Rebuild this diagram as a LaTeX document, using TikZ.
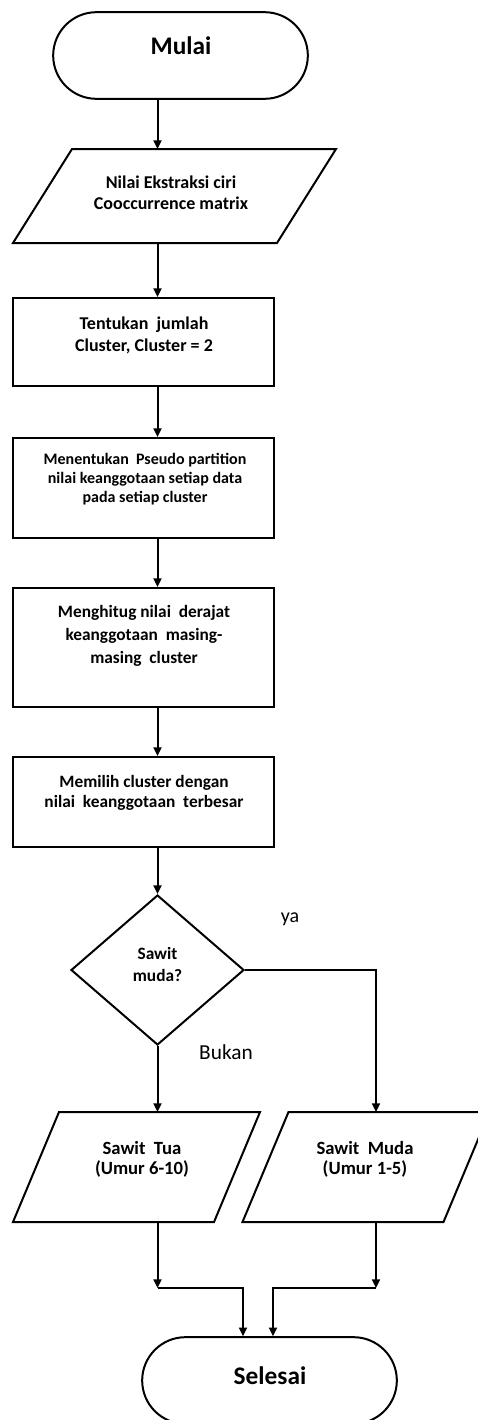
\documentclass[tikz,border=0pt]{standalone}
\usepackage{fontspec}
\setmainfont{Carlito}
\usetikzlibrary{arrows.meta,positioning,shapes.geometric,shapes.misc}

\begin{document}
\begin{tikzpicture}[x=0.75pt,y=-0.75pt,line width=1.5pt,
  term/.style={draw,rounded rectangle,minimum width=191pt,minimum height=65pt,inner sep=0pt},
  proc/.style={draw,rectangle,minimum width=195.75pt,inner sep=0pt},
  io/.style={rectangle,inner sep=0pt},
  cond/.style={draw,diamond,minimum width=129.75pt,minimum height=112.5pt,inner sep=0pt},
  txt/.style={align=center,font=\bfseries\fontsize{13.5}{16.5}\selectfont},
  arr/.style={-{Triangle[length=6.5pt,width=6pt]}}]
  \useasboundingbox (0,0) rectangle (478,1420);
  % Guide lines for the connectors
  \coordinate (spine) at (157.5,0);
  \coordinate (rspine) at (376,0);
  \coordinate (el) at (243,0);
  \coordinate (er) at (273,0);
  \coordinate (jl) at (157.5,1288);
  \coordinate (jr) at (376,1288);
  % Start
  \node[term] (mulai) at (180.5,55.5) {};
  \node[txt,font=\bfseries\fontsize{19}{22}\selectfont] (tmulai) at (181,46) {Mulai};
  % Input
  \node[io,minimum width=240.75pt,minimum height=69pt] (p1) at (174.5,196) {};
  \node[txt,font=\bfseries\fontsize{13.5}{15.5}\selectfont] (tp1) at (171,193)
    {Nilai Ekstraksi ciri\\Cooccurrence matrix};
  % Process steps
  \node[proc,minimum height=66pt] (b1) at (143.5,342) {};
  \node[txt] (tb1) at (144,335) {Tentukan\ \ jumlah\\Cluster, Cluster = 2};
  \node[proc,minimum height=75pt] (b2) at (143.5,488) {};
  \node[txt,font=\bfseries\fontsize{12}{14}\selectfont] (tb2) at (145,479)
    {Menentukan\ \ Pseudo partition\\nilai keanggotaan setiap data\\pada setiap cluster};
  \node[proc,minimum height=89.25pt] (b3) at (143.5,647.5) {};
  \node[txt,font=\bfseries\fontsize{13}{17}\selectfont] (tb3) at (144,636)
    {Menghitug nilai\ \ derajat\\keanggotaan\ \ masing-\\masing\ \ cluster};
  \node[proc,minimum height=67.5pt] (b4) at (143.5,802) {};
  \node[txt,font=\bfseries\fontsize{13}{15}\selectfont] (tb4) at (144,793)
    {Memilih cluster dengan\\nilai\ \ keanggotaan\ \ terbesar};
  % Decision
  \node[cond] (dec) at (157.5,970) {};
  \node[txt,font=\bfseries\fontsize{13}{17}\selectfont] (tdec) at (157.5,964.5) {Sawit\\muda?};
  \node[font=\fontsize{15}{18}\selectfont] (ya) at (290,919) {ya};
  \node[font=\fontsize{16}{18}\selectfont] (bukan) at (226,1052) {Bukan};
  % Outputs
  \node[io,minimum width=183.75pt,minimum height=81pt] (p2) at (136.5,1167) {};
  \node[txt,font=\bfseries\fontsize{14}{15}\selectfont] (tp2) at (142,1159) {Sawit\ \ Tua\\(Umur 6-10)};
  \node[io,minimum width=183.75pt,minimum height=81pt] (p3) at (366,1167) {};
  \node[txt,font=\bfseries\fontsize{14}{15}\selectfont] (tp3) at (365,1159) {Sawit\ \ Muda\\(Umur 1-5)};
  % Slanted outlines of the input/output blocks
  \foreach \n/\s in {p1/44.25pt,p2/34.5pt,p3/34.5pt}
    \draw ([xshift=\s]\n.north west) -- (\n.north east) -- ([xshift=-\s]\n.south east)
      -- (\n.south west) -- cycle;
  % End
  \node[term] (selesai) at (269.5,1380.5) {};
  \node[txt,font=\bfseries\fontsize{19}{22}\selectfont] (tselesai) at (270,1376) {Selesai};
  % Connectors
  \foreach \a/\b in {mulai/p1,p1/b1,b1/b2,b2/b3,b3/b4,b4/dec,dec/p2}
    \draw[arr] (\a.south -| spine) -- (\b.north -| spine);
  \draw[arr] (dec.east) -| (p3.north -| rspine);
  \draw[arr] (p2.south -| spine) -- (jl);
  \draw[arr] (p3.south -| rspine) -- (jr);
  \draw[arr] (jl) -| (selesai.north -| el);
  \draw[arr] (jr) -| (selesai.north -| er);
\end{tikzpicture}
\end{document}
